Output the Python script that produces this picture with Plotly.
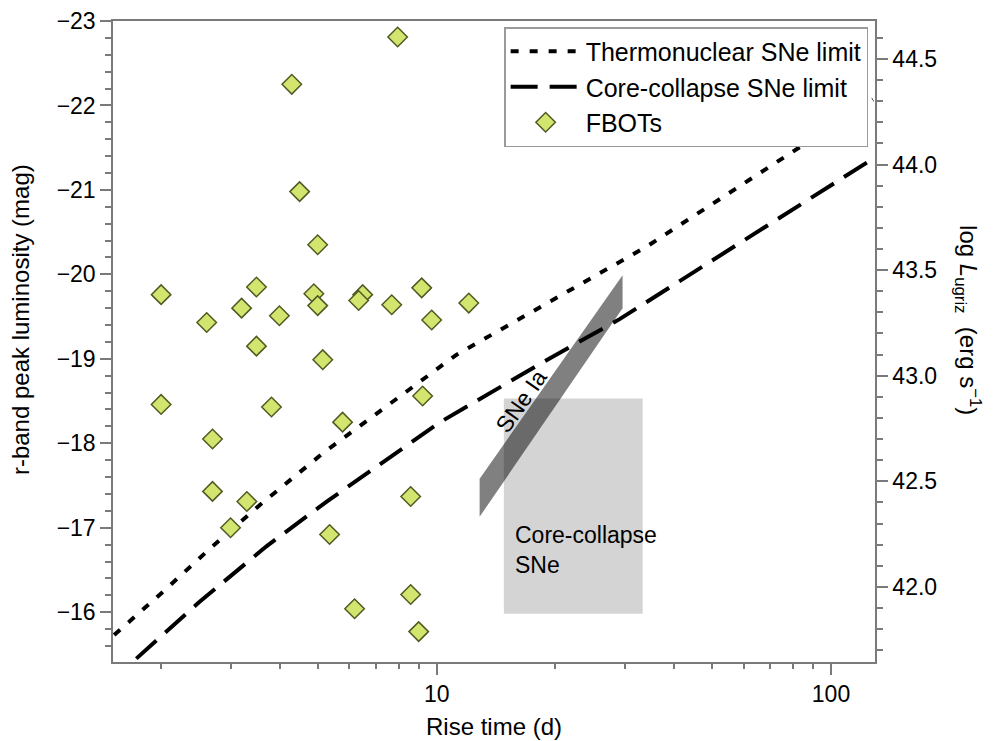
import numpy as np
import plotly.graph_objects as go

# ---------------- data ----------------
# FBOT sample: rise time (d) and r-band peak magnitude
fbot_rise = [2.00, 2.00, 2.61, 2.70, 2.70, 3.00, 3.30, 3.20, 3.49, 3.49,
             3.81, 3.99, 4.29, 4.49, 4.99, 4.88, 4.99, 5.14, 5.77, 5.35,
             6.19, 6.49, 6.34, 7.69, 7.96, 9.16, 9.71, 9.21, 8.59, 8.59,
             9.00, 12.06]
fbot_mag = [-19.76, -18.46, -19.43, -18.05, -17.43, -17.00, -17.31, -19.60, -19.85, -19.15,
            -18.43, -19.51, -22.25, -20.98, -20.35, -19.77, -19.63, -18.99, -18.25, -16.92,
            -16.04, -19.76, -19.69, -19.64, -22.81, -19.84, -19.46, -18.56, -17.37, -16.21,
            -15.77, -19.66]

# Thermonuclear SNe limit
thermo_rise = [1.52, 2.02, 2.70, 3.56, 5.20, 7.73, 11.24, 34.1, 127.8]
thermo_mag = [-15.73, -16.24, -16.78, -17.27, -17.90, -18.49, -19.05, -20.33, -22.07]

# Core-collapse SNe limit
cc_rise = [1.73, 2.50, 3.70, 5.26, 10.2, 18.6, 29.1, 127.8]
cc_mag = [-15.45, -16.12, -16.78, -17.31, -18.25, -18.96, -19.47, -21.37]

# SNe Ia region (parallelogram): rise-time ends, bright / faint edge magnitudes
snia_rise = [12.85, 29.6]
snia_mag_bright = [-17.58, -19.99]
snia_mag_faint = [-17.13, -19.60]

# Core-collapse SNe region (box)
ccsn_rise = [14.8, 33.3]
ccsn_mag = [-18.53, -15.98]

# axis tick values
x_major = [10, 100]
x_minor = [2, 3, 4, 5, 6, 7, 8, 9, 20, 30, 40, 50, 60, 70, 80, 90]
y_ticks = [-23, -22, -21, -20, -19, -18, -17, -16]
lum_ticks = [42.0, 42.5, 43.0, 43.5, 44.0, 44.5]

# ---------------- figure ----------------
FONT = "Liberation Sans, Arial, Helvetica, sans-serif"
AX = "#7a7a7a"
x_range = [np.log10(1.51), np.log10(129.3)]
y_range = [-15.41, -23.0]
# right axis: log L = 44.5 at M = -22.55, 2.5 mag per dex
lum_range = [44.5 + (-22.55 - y_range[0]) / 2.5, 44.5 + (-22.55 - y_range[1]) / 2.5]

fig = go.Figure()

# SNe Ia band
fig.add_trace(go.Scatter(
    x=[snia_rise[0], snia_rise[1], snia_rise[1], snia_rise[0], snia_rise[0]],
    y=[snia_mag_bright[0], snia_mag_bright[1], snia_mag_faint[1], snia_mag_faint[0], snia_mag_bright[0]],
    mode="lines", fill="toself", fillcolor="rgb(128,128,128)",
    line=dict(width=0), showlegend=False, hoverinfo="skip"))

# core-collapse box (translucent, on top of the band)
fig.add_trace(go.Scatter(
    x=[ccsn_rise[0], ccsn_rise[1], ccsn_rise[1], ccsn_rise[0], ccsn_rise[0]],
    y=[ccsn_mag[0], ccsn_mag[0], ccsn_mag[1], ccsn_mag[1], ccsn_mag[0]],
    mode="lines", fill="toself", fillcolor="rgba(0,0,0,0.17)",
    line=dict(width=0), showlegend=False, hoverinfo="skip"))

fig.add_trace(go.Scatter(
    x=thermo_rise, y=thermo_mag, mode="lines", name="Thermonuclear SNe limit",
    line=dict(color="black", width=4, dash="8px,11px")))
fig.add_trace(go.Scatter(
    x=cc_rise, y=cc_mag, mode="lines", name="Core-collapse SNe limit",
    line=dict(color="black", width=4, dash="27px,12px")))
fig.add_trace(go.Scatter(
    x=fbot_rise, y=fbot_mag, mode="markers", name="FBOTs",
    marker=dict(symbol="diamond", size=15, color="#d3e46f",
                line=dict(color="#4f5a22", width=1.5))))
# dummy trace to activate the right axis
fig.add_trace(go.Scatter(x=[None], y=[None], yaxis="y2", showlegend=False, hoverinfo="skip"))

# the page adds an 8 px body margin, so the figure is shifted accordingly
fig.update_layout(
    width=986, height=735,
    margin=dict(l=105, r=119, t=13, b=81, autoexpand=False),
    paper_bgcolor="white", plot_bgcolor="white",
    font=dict(family=FONT, size=23, color="black"),
    showlegend=True,
    legend=dict(x=0.991, y=0.9906, xanchor="right", yanchor="top",
                bgcolor="white", bordercolor="#9a9a9a", borderwidth=1.5,
                font=dict(size=25), itemwidth=70, tracegroupgap=0),
    xaxis=dict(type="log", range=x_range, tickmode="array", tickvals=x_major,
               ticktext=[str(v) for v in x_major], automargin=False,
               ticklabeloverflow="allow",
               ticks="outside", ticklen=11, tickwidth=1.5, tickcolor=AX,
               showline=True, linecolor=AX, linewidth=1.5, mirror=True,
               showgrid=False, zeroline=False,
               minor=dict(tickmode="array", tickvals=x_minor, ticks="outside",
                          ticklen=5, tickwidth=1.5, tickcolor=AX, showgrid=False),
               tickfont=dict(size=23)),
    yaxis=dict(range=y_range, tickmode="array", tickvals=y_ticks, automargin=False,
               ticklabeloverflow="allow",
               ticks="outside", ticklen=11, tickwidth=1.5, tickcolor=AX,
               showline=True, linecolor=AX, linewidth=1.5,
               showgrid=False, zeroline=False,
               minor=dict(dtick=0.2, tick0=-23, ticks="outside", ticklen=6,
                          tickwidth=1.5, tickcolor=AX, showgrid=False),
               tickfont=dict(size=23)),
    yaxis2=dict(overlaying="y", side="right", range=lum_range, automargin=False,
                ticklabeloverflow="allow",
                tickmode="array", tickvals=lum_ticks,
                ticktext=[f"{v:.1f}" for v in lum_ticks],
                ticks="outside", ticklen=11, tickwidth=1.5, tickcolor=AX,
                showline=True, linecolor=AX, linewidth=1.5,
                showgrid=False, zeroline=False,
                minor=dict(dtick=0.1, tick0=42.0, ticks="outside", ticklen=6,
                           tickwidth=1.5, tickcolor=AX, showgrid=False),
                tickfont=dict(size=23)),
)

fig.add_annotation(text="r-band peak luminosity (mag)", xref="paper", yref="paper",
                   x=-0.122, y=0.5335, textangle=-90, showarrow=False,
                   xanchor="center", yanchor="middle", font=dict(size=24))
fig.add_annotation(text="Rise time (d)", xref="paper", yref="paper",
                   x=0.5, y=-0.101, showarrow=False,
                   xanchor="center", yanchor="middle", font=dict(size=24))
fig.add_annotation(text="log <i>L</i><sub>ugriz</sub>  (erg s<sup>\u22121</sup>)",
                   xref="paper", yref="paper", x=1.122, y=0.5335, textangle=90,
                   showarrow=False, xanchor="center", yanchor="middle",
                   font=dict(size=24))
fig.add_annotation(text="SNe Ia", xref="x", yref="y", x=np.log10(16.4), y=-18.50,
                   textangle=-55, showarrow=False, xanchor="center", yanchor="middle",
                   font=dict(size=23))
fig.add_annotation(text="Core-collapse<br>SNe", xref="x", yref="y", x=np.log10(15.6),
                   y=-16.74, showarrow=False, xanchor="left", yanchor="middle",
                   align="left", font=dict(size=23))

fig.write_html("out.html")
